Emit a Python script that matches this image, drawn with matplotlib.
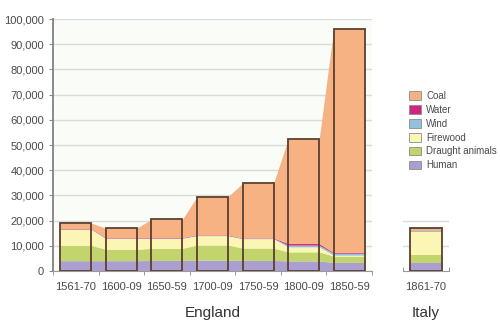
import numpy as np
import matplotlib
matplotlib.use("Agg")
import matplotlib.pyplot as plt
from matplotlib.patches import Patch

plt.rcParams["font.family"] = ["Liberation Sans", "DejaVu Sans"]

# England, energy consumption by source
periods = ["1561-70", "1600-09", "1650-59", "1700-09", "1750-59", "1800-09", "1850-59"]
human = [4100, 4100, 4200, 4300, 4200, 4000, 3400]
draught = [6100, 4500, 4800, 6000, 4900, 3600, 2500]
firewood = [6300, 4300, 4000, 3700, 3700, 2000, 400]
wind = [100, 100, 100, 100, 100, 700, 700]
water = [200, 200, 200, 200, 200, 600, 300]
coal = [2200, 3800, 7200, 15200, 21700, 41400, 88700]

# Italy
italy_period = ["1861-70"]
italy_human = [3300]
italy_draught = [3000]
italy_firewood = [9300]
italy_wind = [100]
italy_water = [200]
italy_coal = [1300]

sources = ["Human", "Draught animals", "Firewood", "Wind", "Water", "Coal"]
colors = ["#ab9fd2", "#c2d56c", "#fbf6b4", "#93c1dc", "#d0257c", "#f6b282"]
edge = "#5b3f2e"
grid_c = "#d9dbd6"
text_c = "#4a4a4a"
bar_w = 0.68


def draw_stack(ax, layers, labels_x):
    n = len(labels_x)
    x = np.arange(n)
    # area runs across each bar top and slopes between neighbouring bars
    xs = np.ravel(np.column_stack([x - bar_w / 2, x + bar_w / 2]))
    base = np.zeros(n)
    for vals, col in zip(layers, colors):
        top = base + np.array(vals)
        ax.fill_between(xs, np.repeat(base, 2), np.repeat(top, 2),
                        color=col, linewidth=0, zorder=2)
        base = top
    ax.bar(x, base, width=bar_w, fill=False, edgecolor=edge,
           linewidth=1.3, zorder=3)
    return x


fig = plt.figure(figsize=(5, 3.26), dpi=100)

# main England panel
ax = fig.add_axes([0.106, 0.1687, 0.638, 0.773])
ax.set_facecolor("#fafcf8")
x = draw_stack(ax, [human, draught, firewood, wind, water, coal], periods)
ax.set_xlim(-0.5, len(periods) - 0.5)
ax.set_ylim(0, 100000)
ax.set_yticks(np.arange(0, 100001, 10000))
ax.set_yticklabels([f"{v:,}" for v in range(0, 100001, 10000)])
ax.yaxis.grid(True, color=grid_c, linewidth=1)
ax.set_axisbelow(True)
ax.set_xticks(x)
ax.set_xticklabels(periods)
ax.set_xticks(np.arange(-0.5, len(periods)), minor=True)
ax.tick_params(axis="x", which="major", length=0, pad=8, labelsize=8, colors=text_c)
ax.tick_params(axis="x", which="minor", length=3, color="#888888")
ax.tick_params(axis="y", length=3, labelsize=8, colors=text_c, color="#888888")
for s in ["top", "right"]:
    ax.spines[s].set_visible(False)
ax.spines["left"].set_color("#8a8a8a")
ax.spines["left"].set_linewidth(1.4)
ax.spines["bottom"].set_color("#9a9a9a")
ax.set_xlabel("England", fontsize=11, color="#333333", labelpad=10)

# Italy panel on the same vertical scale
axi = fig.add_axes([0.806, 0.1687, 0.092, 0.1585])
axi.set_facecolor("none")
xi = draw_stack(axi, [italy_human, italy_draught, italy_firewood,
                      italy_wind, italy_water, italy_coal], italy_period)
axi.set_xlim(-0.5, 0.5)
axi.set_ylim(0, 20500)
axi.set_yticks([10000, 20000])
axi.yaxis.grid(True, color=grid_c, linewidth=1)
axi.set_axisbelow(True)
axi.tick_params(axis="y", length=0, labelleft=False)
axi.set_xticks(xi)
axi.set_xticklabels(italy_period)
axi.set_xticks([-0.5, 0.5], minor=True)
axi.tick_params(axis="x", which="major", length=0, pad=8, labelsize=8, colors=text_c)
axi.tick_params(axis="x", which="minor", length=3, direction="in", color="#888888")
for s in ["top", "right", "left"]:
    axi.spines[s].set_visible(False)
axi.spines["bottom"].set_color("#9a9a9a")
axi.set_xlabel("Italy", fontsize=11, color="#333333", labelpad=10)

# legend, coal first
handles = [Patch(facecolor=c, edgecolor="#8c8c8c", linewidth=0.6)
           for c in colors[::-1]]
fig.legend(handles, sources[::-1], loc="upper left",
           bbox_to_anchor=(0.8, 0.748), frameon=False, fontsize=7,
           handlelength=1.3, handleheight=1.0, handletextpad=0.5,
           labelspacing=0.4, labelcolor=text_c)

fig.savefig("out.png", dpi=100)
